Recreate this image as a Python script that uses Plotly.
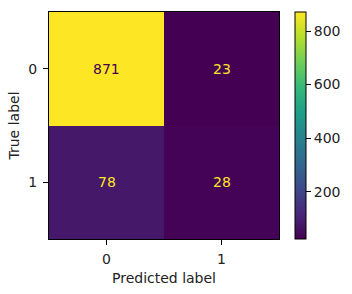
import plotly.graph_objects as go

pred_labels = ["0", "1"]
true_labels = ["0", "1"]
counts = [[871, 23], [78, 28]]
cbar_ticks = [200, 400, 600, 800]

W, H = 352, 294
L, R, T, B = 48.5, 279.5, 10.7, 240.7
FS = 14

fig = go.Figure()
fig.add_trace(go.Heatmap(
    z=counts, x=pred_labels, y=true_labels,
    colorscale="Viridis", showscale=True,
    xgap=0, ygap=0,
    colorbar=dict(
        x=(295.3 - L) / (R - L), xanchor="left", xref="paper",
        y=0.5, yanchor="middle", len=1, lenmode="fraction",
        thickness=11, thicknessmode="pixels",
        outlinecolor="black", outlinewidth=1,
        tickvals=cbar_ticks, ticks="outside", ticklen=5, tickcolor="black",
        tickfont=dict(family="DejaVu Sans", size=FS, color="#222"),
        xpad=0, ypad=0,
    ),
    hoverinfo="skip",
))

zmin = min(min(r) for r in counts)
zmax = max(max(r) for r in counts)
thresh = (zmin + zmax) / 2
for i, tl in enumerate(true_labels):
    for j, pl in enumerate(pred_labels):
        v = counts[i][j]
        fig.add_annotation(
            x=pl, y=tl, text=str(v), showarrow=False,
            font=dict(family="DejaVu Sans", size=FS,
                      color="#440154" if v > thresh else "#fde725"),
        )

axis_common = dict(
    showgrid=False, zeroline=False, showline=True, linecolor="black", linewidth=1,
    mirror=True, ticks="outside", ticklen=5, tickcolor="black",
    tickfont=dict(family="DejaVu Sans", size=FS, color="#222"),
    title_font=dict(family="DejaVu Sans", size=FS, color="#222"),
)
fig.update_xaxes(title_text="Predicted label", title_standoff=7, ticklabelstandoff=2, **axis_common)
fig.update_yaxes(title_text="True label", autorange="reversed", title_standoff=5,
                 ticklabelstandoff=3, **axis_common)

fig.update_layout(
    width=W, height=H,
    margin=dict(l=L, r=W - R, t=T, b=H - B, pad=0),
    paper_bgcolor="white", plot_bgcolor="white",
    showlegend=False,
)
fig.write_html("out.html")
